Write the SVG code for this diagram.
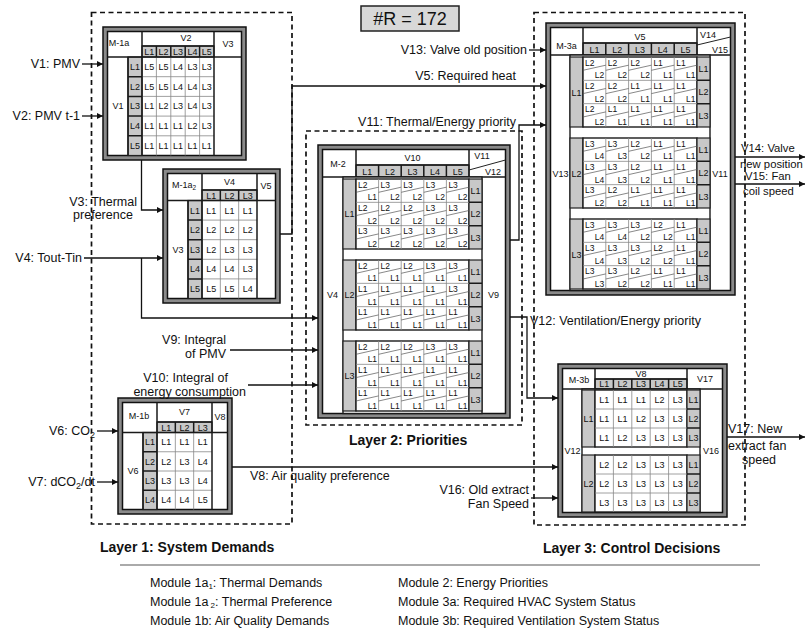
<svg xmlns="http://www.w3.org/2000/svg" width="807" height="634" viewBox="0 0 807 634">
<defs>
<style>
text{font-family:"Liberation Sans",Arial,Helvetica,sans-serif;fill:#111}
.lb{font-size:12.5px}
.lbe{font-size:12.5px;text-anchor:end}
.rs{font-size:11.3px}
.h{font-size:14px;font-weight:bold}
.c{font-size:9px;text-anchor:middle}
.tl{font-size:8.5px}
.tr{font-size:8.5px;text-anchor:end}
.fo{fill:#8a8a8a;stroke:#111;stroke-width:1.5}
.fi{fill:#fff;stroke:#111;stroke-width:1.5}
.g{fill:#c8c8c8;stroke:#222;stroke-width:1.2}
.wd{fill:#fff;stroke:#1a1a1a;stroke-width:1.4}
.dk{fill:none;stroke:#1a1a1a;stroke-width:1.5}
.gl{fill:none;stroke:#888;stroke-width:0.8}
.dg{fill:none;stroke:#555;stroke-width:0.7}
.cn{fill:none;stroke:#111;stroke-width:1.3}
.ly{fill:none;stroke:#111;stroke-width:1.7;stroke-dasharray:5 3.5}
</style>
<marker id="ah" viewBox="0 0 10 10" refX="10" refY="5" markerWidth="9" markerHeight="6" markerUnits="userSpaceOnUse" orient="auto"><path d="M0 0L10 5L0 10z" fill="#111"/></marker>
</defs>
<rect width="807" height="634" fill="#fff"/>

<g id="title">
<rect x="361" y="6" width="98" height="25" fill="#d8d8d8" stroke="#222" stroke-width="1.5"/>
<text x="410" y="25" font-size="18" text-anchor="middle">#R = 172</text>
</g>

<g id="layers">
<rect class="ly" x="91.5" y="12.5" width="200.5" height="511.5"/>
<rect class="ly" x="306" y="131" width="216" height="294"/>
<rect class="ly" x="534" y="12.5" width="211" height="512.5"/>
<text class="h" x="100" y="552">Layer 1: System Demands</text>
<text class="h" x="349" y="445">Layer 2: Priorities</text>
<text class="h" x="543" y="553">Layer 3: Control Decisions</text>
</g>

<!-- M-1a -->
<g id="m1a">
<rect class="fo" x="103" y="27" width="143" height="133"/>
<rect class="fi" x="107.5" y="31.5" width="134" height="124"/>
<rect class="g" x="142" y="46" width="72" height="11"/>
<rect class="g" x="128" y="57" width="14" height="98.5"/>
<path class="gl" d="M156.4 57V155.5M170.8 57V155.5M185.2 57V155.5M199.6 57V155.5M142 76.7H214M142 96.4H214M142 116.1H214M142 135.8H214"/>
<path class="dk" d="M156.4 46V57M170.8 46V57M185.2 46V57M199.6 46V57M128 76.7H142M128 96.4H142M128 116.1H142M128 135.8H142"/>
<path class="dk" d="M107.5 57H241.5M128 57V155.5M142 31.5V155.5M214 31.5V155.5M142 46H214"/>
<text class="c" x="119" y="46">M-1a</text>
<text class="c" x="186" y="41">V2</text>
<text class="c" x="228" y="47">V3</text>
<text class="c" y="54.5"><tspan x="149.2">L1</tspan><tspan x="163.6">L2</tspan><tspan x="178">L3</tspan><tspan x="192.4">L4</tspan><tspan x="206.8">L5</tspan></text>
<text class="c" x="118" y="109">V1</text>
<text class="c" y="69.9"><tspan x="135">L1</tspan><tspan x="149.2">L5</tspan><tspan x="163.6">L5</tspan><tspan x="178">L4</tspan><tspan x="192.4">L3</tspan><tspan x="206.8">L3</tspan></text>
<text class="c" y="89.6"><tspan x="135">L2</tspan><tspan x="149.2">L5</tspan><tspan x="163.6">L5</tspan><tspan x="178">L4</tspan><tspan x="192.4">L4</tspan><tspan x="206.8">L3</tspan></text>
<text class="c" y="109.3"><tspan x="135">L3</tspan><tspan x="149.2">L1</tspan><tspan x="163.6">L2</tspan><tspan x="178">L3</tspan><tspan x="192.4">L4</tspan><tspan x="206.8">L3</tspan></text>
<text class="c" y="129"><tspan x="135">L4</tspan><tspan x="149.2">L1</tspan><tspan x="163.6">L1</tspan><tspan x="178">L1</tspan><tspan x="192.4">L2</tspan><tspan x="206.8">L3</tspan></text>
<text class="c" y="148.7"><tspan x="135">L5</tspan><tspan x="149.2">L1</tspan><tspan x="163.6">L1</tspan><tspan x="178">L1</tspan><tspan x="192.4">L1</tspan><tspan x="206.8">L1</tspan></text>
</g>

<!-- M-1a2 -->
<g id="m1a2">
<rect class="fo" x="163" y="169" width="117" height="134"/>
<rect class="fi" x="167.5" y="173.5" width="108" height="125"/>
<rect class="g" x="202" y="190" width="55" height="10.5"/>
<rect class="g" x="188" y="200.5" width="14" height="98"/>
<path class="gl" d="M220.33 200.5V298.5M238.67 200.5V298.5M202 220.1H257M202 239.7H257M202 259.3H257M202 278.9H257"/>
<path class="dk" d="M220.33 190V200.5M238.67 190V200.5M188 220.1H202M188 239.7H202M188 259.3H202M188 278.9H202"/>
<path class="dk" d="M167.5 200.5H275.5M188 200.5V298.5M202 173.5V298.5M257 173.5V298.5M202 190H257"/>
<text class="c" x="184" y="188">M-1a<tspan font-size="6.5" dy="2">2</tspan></text>
<text class="c" x="229.5" y="185">V4</text>
<text class="c" x="266" y="189">V5</text>
<text class="c" y="198.5"><tspan x="211.2">L1</tspan><tspan x="229.5">L2</tspan><tspan x="247.8">L3</tspan></text>
<text class="c" x="178" y="253">V3</text>
<text class="c" y="213.5"><tspan x="195">L1</tspan><tspan x="211.2">L1</tspan><tspan x="229.5">L1</tspan><tspan x="247.8">L1</tspan></text>
<text class="c" y="233.1"><tspan x="195">L2</tspan><tspan x="211.2">L2</tspan><tspan x="229.5">L2</tspan><tspan x="247.8">L2</tspan></text>
<text class="c" y="252.7"><tspan x="195">L3</tspan><tspan x="211.2">L2</tspan><tspan x="229.5">L3</tspan><tspan x="247.8">L3</tspan></text>
<text class="c" y="272.3"><tspan x="195">L4</tspan><tspan x="211.2">L4</tspan><tspan x="229.5">L4</tspan><tspan x="247.8">L3</tspan></text>
<text class="c" y="291.9"><tspan x="195">L5</tspan><tspan x="211.2">L5</tspan><tspan x="229.5">L5</tspan><tspan x="247.8">L4</tspan></text>
</g>

<!-- M-1b -->
<g id="m1b">
<rect class="fo" x="118" y="398" width="114" height="116"/>
<rect class="fi" x="122.5" y="402.5" width="105" height="107"/>
<rect class="g" x="157" y="422" width="55" height="10.5"/>
<rect class="g" x="143" y="432.5" width="14" height="77"/>
<path class="gl" d="M175.33 432.5V509.5M193.67 432.5V509.5M157 451.75H212M157 471H212M157 490.25H212"/>
<path class="dk" d="M175.33 422V432.5M193.67 422V432.5M143 451.75H157M143 471H157M143 490.25H157"/>
<path class="dk" d="M122.5 432.5H227.5M143 432.5V509.5M157 402.5V509.5M212 402.5V509.5M157 422H212"/>
<text class="c" x="139" y="419">M-1b</text>
<text class="c" x="184.5" y="415">V7</text>
<text class="c" x="220" y="420">V8</text>
<text class="c" y="430.5"><tspan x="166.2">L1</tspan><tspan x="184.5">L2</tspan><tspan x="202.8">L3</tspan></text>
<text class="c" x="133" y="474">V6</text>
<text class="c" y="445.3"><tspan x="150">L1</tspan><tspan x="166.2">L1</tspan><tspan x="184.5">L1</tspan><tspan x="202.8">L1</tspan></text>
<text class="c" y="464.6"><tspan x="150">L2</tspan><tspan x="166.2">L2</tspan><tspan x="184.5">L3</tspan><tspan x="202.8">L4</tspan></text>
<text class="c" y="483.8"><tspan x="150">L3</tspan><tspan x="166.2">L3</tspan><tspan x="184.5">L3</tspan><tspan x="202.8">L4</tspan></text>
<text class="c" y="503.1"><tspan x="150">L4</tspan><tspan x="166.2">L4</tspan><tspan x="184.5">L4</tspan><tspan x="202.8">L5</tspan></text>
</g>

<!-- M-2 -->
<g id="m2">
<rect class="fo" x="318" y="145" width="192" height="273"/>
<rect class="fi" x="322.5" y="149.5" width="183" height="264"/>
<rect class="g" x="356" y="165" width="113" height="12"/>
<path class="dk" d="M378.6 165V177M401.2 165V177M423.8 165V177M446.4 165V177"/>
<path class="dk" d="M322.5 177H505.5M356 149.5V177M469 149.5V177M356 165H469"/>
<path class="dg" d="M469 170L505.5 160" style="stroke:#222;stroke-width:1"/>
<rect class="wd" x="343" y="177" width="139" height="236.5"/>
<rect class="g" x="343" y="179" width="13" height="70"/>
<rect class="g" x="343" y="260" width="13" height="70"/>
<rect class="g" x="343" y="341" width="13" height="70"/>
<rect class="wd" x="356" y="179" width="113" height="70"/>
<rect class="wd" x="356" y="260" width="113" height="70"/>
<rect class="wd" x="356" y="341" width="113" height="70"/>
<rect class="g" x="469" y="179" width="13" height="70"/>
<rect class="g" x="469" y="260" width="13" height="70"/>
<rect class="g" x="469" y="341" width="13" height="70"/>
<path class="dk" d="M469 202.33H482M469 225.67H482M469 283.33H482M469 306.67H482M469 364.33H482M469 387.67H482"/>
<path class="gl" d="M378.6 179V249M401.2 179V249M423.8 179V249M446.4 179V249M356 202.33H469M356 225.67H469M378.6 260V330M401.2 260V330M423.8 260V330M446.4 260V330M356 283.33H469M356 306.67H469M378.6 341V411M401.2 341V411M423.8 341V411M446.4 341V411M356 364.33H469M356 387.67H469"/>
<path class="dg" d="M356 192.3l22.6-5.1M378.6 192.3l22.6-5.1M401.2 192.3l22.6-5.1M423.8 192.3l22.6-5.1M446.4 192.3l22.6-5.1M356 215.6l22.6-5.1M378.6 215.6l22.6-5.1M401.2 215.6l22.6-5.1M423.8 215.6l22.6-5.1M446.4 215.6l22.6-5.1M356 239l22.6-5.1M378.6 239l22.6-5.1M401.2 239l22.6-5.1M423.8 239l22.6-5.1M446.4 239l22.6-5.1M356 273.3l22.6-5.1M378.6 273.3l22.6-5.1M401.2 273.3l22.6-5.1M423.8 273.3l22.6-5.1M446.4 273.3l22.6-5.1M356 296.6l22.6-5.1M378.6 296.6l22.6-5.1M401.2 296.6l22.6-5.1M423.8 296.6l22.6-5.1M446.4 296.6l22.6-5.1M356 320l22.6-5.1M378.6 320l22.6-5.1M401.2 320l22.6-5.1M423.8 320l22.6-5.1M446.4 320l22.6-5.1M356 354.3l22.6-5.1M378.6 354.3l22.6-5.1M401.2 354.3l22.6-5.1M423.8 354.3l22.6-5.1M446.4 354.3l22.6-5.1M356 377.6l22.6-5.1M378.6 377.6l22.6-5.1M401.2 377.6l22.6-5.1M423.8 377.6l22.6-5.1M446.4 377.6l22.6-5.1M356 401l22.6-5.1M378.6 401l22.6-5.1M401.2 401l22.6-5.1M423.8 401l22.6-5.1M446.4 401l22.6-5.1"/>
<text class="c" x="338" y="167">M-2</text>
<text class="c" x="412.5" y="161">V10</text>
<text class="c" x="482" y="159">V11</text>
<text class="c" x="493" y="175">V12</text>
<text class="c" y="174.5"><tspan x="367.3">L1</tspan><tspan x="389.9">L2</tspan><tspan x="412.5">L3</tspan><tspan x="435.1">L4</tspan><tspan x="457.7">L5</tspan></text>
<text class="c" x="332.5" y="298">V4</text>
<text class="c" x="493.5" y="298">V9</text>
<text class="c" x="349.5" y="217">L1</text>
<text class="c" x="349.5" y="298">L2</text>
<text class="c" x="349.5" y="379">L3</text>
<text class="c" x="475.5"><tspan x="475.5" y="193.9">L1</tspan><tspan x="475.5" y="217.2">L2</tspan><tspan x="475.5" y="240.5">L3</tspan><tspan x="475.5" y="274.9">L1</tspan><tspan x="475.5" y="298.2">L2</tspan><tspan x="475.5" y="321.5">L3</tspan><tspan x="475.5" y="355.9">L1</tspan><tspan x="475.5" y="379.2">L2</tspan><tspan x="475.5" y="402.5">L3</tspan></text>
<text class="tl" y="187.5"><tspan x="358">L2</tspan><tspan x="380.6">L3</tspan><tspan x="403.2">L3</tspan><tspan x="425.8">L3</tspan><tspan x="448.4">L3</tspan></text>
<text class="tr" y="200.3"><tspan x="377.1">L1</tspan><tspan x="399.7">L2</tspan><tspan x="422.3">L2</tspan><tspan x="444.9">L2</tspan><tspan x="467.5">L2</tspan></text>
<text class="tl" y="210.8"><tspan x="358">L2</tspan><tspan x="380.6">L2</tspan><tspan x="403.2">L2</tspan><tspan x="425.8">L3</tspan><tspan x="448.4">L3</tspan></text>
<text class="tr" y="223.7"><tspan x="377.1">L2</tspan><tspan x="399.7">L2</tspan><tspan x="422.3">L2</tspan><tspan x="444.9">L2</tspan><tspan x="467.5">L2</tspan></text>
<text class="tl" y="234.2"><tspan x="358">L3</tspan><tspan x="380.6">L3</tspan><tspan x="403.2">L3</tspan><tspan x="425.8">L3</tspan><tspan x="448.4">L3</tspan></text>
<text class="tr" y="247"><tspan x="377.1">L2</tspan><tspan x="399.7">L2</tspan><tspan x="422.3">L2</tspan><tspan x="444.9">L2</tspan><tspan x="467.5">L2</tspan></text>
<text class="tl" y="268.5"><tspan x="358">L2</tspan><tspan x="380.6">L2</tspan><tspan x="403.2">L2</tspan><tspan x="425.8">L3</tspan><tspan x="448.4">L3</tspan></text>
<text class="tr" y="281.3"><tspan x="377.1">L1</tspan><tspan x="399.7">L1</tspan><tspan x="422.3">L1</tspan><tspan x="444.9">L1</tspan><tspan x="467.5">L1</tspan></text>
<text class="tl" y="291.8"><tspan x="358">L1</tspan><tspan x="380.6">L1</tspan><tspan x="403.2">L1</tspan><tspan x="425.8">L1</tspan><tspan x="448.4">L3</tspan></text>
<text class="tr" y="304.7"><tspan x="377.1">L1</tspan><tspan x="399.7">L1</tspan><tspan x="422.3">L1</tspan><tspan x="444.9">L1</tspan><tspan x="467.5">L1</tspan></text>
<text class="tl" y="315.2"><tspan x="358">L1</tspan><tspan x="380.6">L1</tspan><tspan x="403.2">L1</tspan><tspan x="425.8">L1</tspan><tspan x="448.4">L1</tspan></text>
<text class="tr" y="328"><tspan x="377.1">L1</tspan><tspan x="399.7">L1</tspan><tspan x="422.3">L1</tspan><tspan x="444.9">L1</tspan><tspan x="467.5">L1</tspan></text>
<text class="tl" y="349.5"><tspan x="358">L2</tspan><tspan x="380.6">L2</tspan><tspan x="403.2">L2</tspan><tspan x="425.8">L3</tspan><tspan x="448.4">L3</tspan></text>
<text class="tr" y="362.3"><tspan x="377.1">L1</tspan><tspan x="399.7">L1</tspan><tspan x="422.3">L1</tspan><tspan x="444.9">L1</tspan><tspan x="467.5">L1</tspan></text>
<text class="tl" y="372.8"><tspan x="358">L1</tspan><tspan x="380.6">L1</tspan><tspan x="403.2">L1</tspan><tspan x="425.8">L1</tspan><tspan x="448.4">L1</tspan></text>
<text class="tr" y="385.7"><tspan x="377.1">L1</tspan><tspan x="399.7">L1</tspan><tspan x="422.3">L1</tspan><tspan x="444.9">L1</tspan><tspan x="467.5">L1</tspan></text>
<text class="tl" y="396.2"><tspan x="358">L1</tspan><tspan x="380.6">L1</tspan><tspan x="403.2">L1</tspan><tspan x="425.8">L1</tspan><tspan x="448.4">L1</tspan></text>
<text class="tr" y="409"><tspan x="377.1">L1</tspan><tspan x="399.7">L1</tspan><tspan x="422.3">L1</tspan><tspan x="444.9">L1</tspan><tspan x="467.5">L1</tspan></text>
</g>

<!-- M-3a -->
<g id="m3a">
<rect class="fo" x="546" y="23" width="189" height="272"/>
<rect class="fi" x="550.5" y="27.5" width="180" height="263"/>
<rect class="g" x="583" y="43" width="114" height="12"/>
<path class="dk" d="M605.8 43V55M628.6 43V55M651.4 43V55M674.2 43V55"/>
<path class="dk" d="M550.5 55H730.5M583 27.5V55M697 27.5V55M583 43H697"/>
<path class="dg" d="M697 45L730.5 37" style="stroke:#222;stroke-width:1"/>
<rect class="wd" x="570" y="55" width="140" height="235.5"/>
<rect class="g" x="570" y="57" width="13" height="70"/>
<rect class="g" x="570" y="138" width="13" height="70"/>
<rect class="g" x="570" y="219" width="13" height="70"/>
<rect class="wd" x="583" y="57" width="114" height="70"/>
<rect class="wd" x="583" y="138" width="114" height="70"/>
<rect class="wd" x="583" y="219" width="114" height="70"/>
<rect class="g" x="697" y="57" width="13" height="70"/>
<rect class="g" x="697" y="138" width="13" height="70"/>
<rect class="g" x="697" y="219" width="13" height="70"/>
<path class="dk" d="M697 80.33H710M697 103.67H710M697 161.33H710M697 184.67H710M697 242.33H710M697 265.67H710"/>
<path class="gl" d="M605.8 57V127M628.6 57V127M651.4 57V127M674.2 57V127M583 80.33H697M583 103.67H697M605.8 138V208M628.6 138V208M651.4 138V208M674.2 138V208M583 161.33H697M583 184.67H697M605.8 219V289M628.6 219V289M651.4 219V289M674.2 219V289M583 242.33H697M583 265.67H697"/>
<path class="dg" d="M583 70.3l22.8-5.1M605.8 70.3l22.8-5.1M628.6 70.3l22.8-5.1M651.4 70.3l22.8-5.1M674.2 70.3l22.8-5.1M583 93.6l22.8-5.1M605.8 93.6l22.8-5.1M628.6 93.6l22.8-5.1M651.4 93.6l22.8-5.1M674.2 93.6l22.8-5.1M583 117l22.8-5.1M605.8 117l22.8-5.1M628.6 117l22.8-5.1M651.4 117l22.8-5.1M674.2 117l22.8-5.1M583 151.3l22.8-5.1M605.8 151.3l22.8-5.1M628.6 151.3l22.8-5.1M651.4 151.3l22.8-5.1M674.2 151.3l22.8-5.1M583 174.6l22.8-5.1M605.8 174.6l22.8-5.1M628.6 174.6l22.8-5.1M651.4 174.6l22.8-5.1M674.2 174.6l22.8-5.1M583 198l22.8-5.1M605.8 198l22.8-5.1M628.6 198l22.8-5.1M651.4 198l22.8-5.1M674.2 198l22.8-5.1M583 232.3l22.8-5.1M605.8 232.3l22.8-5.1M628.6 232.3l22.8-5.1M651.4 232.3l22.8-5.1M674.2 232.3l22.8-5.1M583 255.6l22.8-5.1M605.8 255.6l22.8-5.1M628.6 255.6l22.8-5.1M651.4 255.6l22.8-5.1M674.2 255.6l22.8-5.1M583 279l22.8-5.1M605.8 279l22.8-5.1M628.6 279l22.8-5.1M651.4 279l22.8-5.1M674.2 279l22.8-5.1"/>
<text class="c" x="566.5" y="49">M-3a</text>
<text class="c" x="640" y="40">V5</text>
<text class="c" x="708" y="38">V14</text>
<text class="c" x="720" y="53">V15</text>
<text class="c" y="52.5"><tspan x="594.4">L1</tspan><tspan x="617.2">L2</tspan><tspan x="640">L3</tspan><tspan x="662.8">L4</tspan><tspan x="685.6">L5</tspan></text>
<text class="c" x="560.5" y="176.5">V13</text>
<text class="c" x="720" y="176.5">V11</text>
<text class="c" x="576.5" y="95.5">L1</text>
<text class="c" x="576.5" y="176.5">L2</text>
<text class="c" x="576.5" y="257.5">L3</text>
<text class="c"><tspan x="703.5" y="71.9">L1</tspan><tspan x="703.5" y="95.2">L2</tspan><tspan x="703.5" y="118.5">L3</tspan><tspan x="703.5" y="152.9">L1</tspan><tspan x="703.5" y="176.2">L2</tspan><tspan x="703.5" y="199.5">L3</tspan><tspan x="703.5" y="233.9">L1</tspan><tspan x="703.5" y="257.2">L2</tspan><tspan x="703.5" y="280.5">L3</tspan></text>
<text class="tl" y="65.5"><tspan x="585">L2</tspan><tspan x="607.8">L2</tspan><tspan x="630.6">L2</tspan><tspan x="653.4">L1</tspan><tspan x="676.2">L1</tspan></text>
<text class="tr" y="78.3"><tspan x="604.3">L2</tspan><tspan x="627.1">L2</tspan><tspan x="649.9">L2</tspan><tspan x="672.7">L1</tspan><tspan x="695.5">L1</tspan></text>
<text class="tl" y="88.8"><tspan x="585">L2</tspan><tspan x="607.8">L2</tspan><tspan x="630.6">L1</tspan><tspan x="653.4">L1</tspan><tspan x="676.2">L1</tspan></text>
<text class="tr" y="101.7"><tspan x="604.3">L2</tspan><tspan x="627.1">L2</tspan><tspan x="649.9">L1</tspan><tspan x="672.7">L1</tspan><tspan x="695.5">L1</tspan></text>
<text class="tl" y="112.2"><tspan x="585">L2</tspan><tspan x="607.8">L1</tspan><tspan x="630.6">L1</tspan><tspan x="653.4">L1</tspan><tspan x="676.2">L1</tspan></text>
<text class="tr" y="125"><tspan x="604.3">L2</tspan><tspan x="627.1">L1</tspan><tspan x="649.9">L1</tspan><tspan x="672.7">L1</tspan><tspan x="695.5">L1</tspan></text>
<text class="tl" y="146.5"><tspan x="585">L3</tspan><tspan x="607.8">L3</tspan><tspan x="630.6">L2</tspan><tspan x="653.4">L1</tspan><tspan x="676.2">L1</tspan></text>
<text class="tr" y="159.3"><tspan x="604.3">L4</tspan><tspan x="627.1">L3</tspan><tspan x="649.9">L2</tspan><tspan x="672.7">L1</tspan><tspan x="695.5">L1</tspan></text>
<text class="tl" y="169.8"><tspan x="585">L3</tspan><tspan x="607.8">L3</tspan><tspan x="630.6">L2</tspan><tspan x="653.4">L1</tspan><tspan x="676.2">L1</tspan></text>
<text class="tr" y="182.7"><tspan x="604.3">L4</tspan><tspan x="627.1">L3</tspan><tspan x="649.9">L2</tspan><tspan x="672.7">L1</tspan><tspan x="695.5">L1</tspan></text>
<text class="tl" y="193.2"><tspan x="585">L3</tspan><tspan x="607.8">L2</tspan><tspan x="630.6">L1</tspan><tspan x="653.4">L1</tspan><tspan x="676.2">L1</tspan></text>
<text class="tr" y="206"><tspan x="604.3">L2</tspan><tspan x="627.1">L2</tspan><tspan x="649.9">L1</tspan><tspan x="672.7">L1</tspan><tspan x="695.5">L1</tspan></text>
<text class="tl" y="227.5"><tspan x="585">L3</tspan><tspan x="607.8">L3</tspan><tspan x="630.6">L3</tspan><tspan x="653.4">L2</tspan><tspan x="676.2">L1</tspan></text>
<text class="tr" y="240.3"><tspan x="604.3">L4</tspan><tspan x="627.1">L4</tspan><tspan x="649.9">L2</tspan><tspan x="672.7">L2</tspan><tspan x="695.5">L1</tspan></text>
<text class="tl" y="250.8"><tspan x="585">L3</tspan><tspan x="607.8">L3</tspan><tspan x="630.6">L3</tspan><tspan x="653.4">L2</tspan><tspan x="676.2">L1</tspan></text>
<text class="tr" y="263.7"><tspan x="604.3">L4</tspan><tspan x="627.1">L3</tspan><tspan x="649.9">L2</tspan><tspan x="672.7">L2</tspan><tspan x="695.5">L1</tspan></text>
<text class="tl" y="274.2"><tspan x="585">L3</tspan><tspan x="607.8">L3</tspan><tspan x="630.6">L2</tspan><tspan x="653.4">L1</tspan><tspan x="676.2">L1</tspan></text>
<text class="tr" y="287"><tspan x="604.3">L3</tspan><tspan x="627.1">L2</tspan><tspan x="649.9">L2</tspan><tspan x="672.7">L1</tspan><tspan x="695.5">L1</tspan></text>
</g>

<!-- M-3b -->
<g id="m3b">
<rect class="fo" x="558" y="364" width="169" height="153"/>
<rect class="fi" x="562.5" y="368.5" width="160" height="144"/>
<rect class="g" x="595" y="379" width="92" height="10"/>
<path class="dk" d="M613.4 379V389M631.8 379V389M650.2 379V389M668.6 379V389"/>
<path class="dk" d="M562.5 389H722.5M595 368.5V389M687 368.5V389M595 379H687"/>
<rect class="wd" x="582" y="389" width="118" height="123.5"/>
<rect class="g" x="582" y="390" width="13" height="57"/>
<rect class="g" x="582" y="455" width="13" height="57"/>
<rect class="wd" x="595" y="390" width="92" height="57"/>
<rect class="wd" x="595" y="455" width="92" height="57"/>
<rect class="g" x="687" y="390" width="13" height="57"/>
<rect class="g" x="687" y="455" width="13" height="57"/>
<path class="dk" d="M687 409H700M687 428H700M687 474H700M687 493H700"/>
<path class="gl" d="M613.4 390V447M631.8 390V447M650.2 390V447M668.6 390V447M595 409H687M595 428H687M613.4 455V512M631.8 455V512M650.2 455V512M668.6 455V512M595 474H687M595 493H687"/>
<text class="c" x="579" y="383">M-3b</text>
<text class="c" x="641" y="377">V8</text>
<text class="c" x="705" y="382">V17</text>
<text class="c" y="387"><tspan x="604.2">L1</tspan><tspan x="622.6">L2</tspan><tspan x="641">L3</tspan><tspan x="659.4">L4</tspan><tspan x="677.8">L5</tspan></text>
<text class="c" x="572.5" y="454">V12</text>
<text class="c" x="711" y="454">V16</text>
<text class="c" x="588.5" y="421.5">L1</text>
<text class="c" x="588.5" y="486.5">L2</text>
<text class="c" y="402.5"><tspan x="604.2">L1</tspan><tspan x="622.6">L1</tspan><tspan x="641">L1</tspan><tspan x="659.4">L2</tspan><tspan x="677.8">L3</tspan><tspan x="693.5">L1</tspan></text>
<text class="c" y="421.5"><tspan x="604.2">L1</tspan><tspan x="622.6">L1</tspan><tspan x="641">L2</tspan><tspan x="659.4">L3</tspan><tspan x="677.8">L3</tspan><tspan x="693.5">L2</tspan></text>
<text class="c" y="440.5"><tspan x="604.2">L1</tspan><tspan x="622.6">L2</tspan><tspan x="641">L3</tspan><tspan x="659.4">L3</tspan><tspan x="677.8">L3</tspan><tspan x="693.5">L3</tspan></text>
<text class="c" y="467.5"><tspan x="604.2">L2</tspan><tspan x="622.6">L2</tspan><tspan x="641">L3</tspan><tspan x="659.4">L3</tspan><tspan x="677.8">L3</tspan><tspan x="693.5">L1</tspan></text>
<text class="c" y="486.5"><tspan x="604.2">L2</tspan><tspan x="622.6">L3</tspan><tspan x="641">L3</tspan><tspan x="659.4">L3</tspan><tspan x="677.8">L3</tspan><tspan x="693.5">L2</tspan></text>
<text class="c" y="505.5"><tspan x="604.2">L3</tspan><tspan x="622.6">L3</tspan><tspan x="641">L3</tspan><tspan x="659.4">L3</tspan><tspan x="677.8">L3</tspan><tspan x="693.5">L3</tspan></text>
</g>

<g id="connectors">
<path class="cn" d="M82 64H103" marker-end="url(#ah)"/>
<path class="cn" d="M82 116H103" marker-end="url(#ah)"/>
<path class="cn" d="M141.5 160V210H163" marker-end="url(#ah)"/>
<path class="cn" d="M84 258H163" marker-end="url(#ah)"/>
<path class="cn" d="M141.5 258V318H318" marker-end="url(#ah)"/>
<path class="cn" d="M280 234H292V86H546" marker-end="url(#ah)"/>
<path class="cn" d="M529 50H546" marker-end="url(#ah)"/>
<path class="cn" d="M510 240H519V125H546" marker-end="url(#ah)"/>
<path class="cn" d="M510 317H527V398H558" marker-end="url(#ah)"/>
<path class="cn" d="M230 350H318" marker-end="url(#ah)"/>
<path class="cn" d="M248 385H318" marker-end="url(#ah)"/>
<path class="cn" d="M97 431H118" marker-end="url(#ah)"/>
<path class="cn" d="M97 482H118" marker-end="url(#ah)"/>
<path class="cn" d="M232 467H558" marker-end="url(#ah)"/>
<path class="cn" d="M531 498H558" marker-end="url(#ah)"/>
<path class="cn" d="M735 157H805" marker-end="url(#ah)"/>
<path class="cn" d="M735 184H805" marker-end="url(#ah)"/>
<path class="cn" d="M727 437H805" marker-end="url(#ah)"/>
</g>

<g id="labels">
<text class="lbe" x="80" y="68">V1: PMV</text>
<text class="lbe" x="80" y="120">V2: PMV t-1</text>
<text class="lbe" x="137" y="206">V3: Thermal</text>
<text class="lb" x="103" y="219" text-anchor="middle">preference</text>
<text class="lbe" x="82" y="262">V4: Tout-Tin</text>
<text class="lbe" x="527" y="54">V13: Valve old position</text>
<text class="lbe" x="516" y="80">V5: Required heat</text>
<text class="lbe" x="516" y="126">V11: Thermal/Energy priority</text>
<text class="lb" x="530" y="325">V12: Ventilation/Energy priority</text>
<text class="lbe" x="226" y="344">V9: Integral</text>
<text class="lbe" x="226" y="358">of PMV</text>
<text class="lbe" x="228" y="382">V10: Integral of</text>
<text class="lbe" x="246" y="396">energy consumption</text>
<text class="lbe" x="95" y="435">V6: CO<tspan font-size="9" dy="3">2</tspan></text>
<text class="lbe" x="95" y="486">V7: dCO<tspan font-size="9" dy="3">2</tspan><tspan dy="-3">/dt</tspan></text>
<text class="lb" x="250" y="480">V8: Air quality preference</text>
<text class="lbe" x="529" y="494">V16: Old extract</text>
<text class="lbe" x="529" y="508">Fan Speed</text>
<text class="rs" x="741" y="152">V14: Valve</text>
<text class="rs" x="740" y="168">new position</text>
<text class="rs" x="745" y="180">V15: Fan</text>
<text class="rs" x="743" y="195">coil speed</text>
<text class="lb" x="728" y="433">V17: New</text>
<text class="lb" x="728" y="450">extract fan</text>
<text class="lb" x="742" y="464">speed</text>
</g>

<g id="legend">
<path d="M120 565H760" stroke="#aaa" stroke-width="2"/>
<text class="lb" x="150" y="587">Module 1a<tspan font-size="8" dy="2">1</tspan><tspan dy="-2">: Thermal Demands</tspan></text>
<text class="lb" x="150" y="606">Module 1a<tspan font-size="8" dy="2"> 2</tspan><tspan dy="-2">: Thermal Preference</tspan></text>
<text class="lb" x="150" y="625">Module 1b: Air Quality Demands</text>
<text class="lb" x="398" y="587">Module 2: Energy Priorities</text>
<text class="lb" x="398" y="606">Module 3a: Required HVAC System Status</text>
<text class="lb" x="398" y="625">Module 3b: Required Ventilation System Status</text>
</g>
</svg>
